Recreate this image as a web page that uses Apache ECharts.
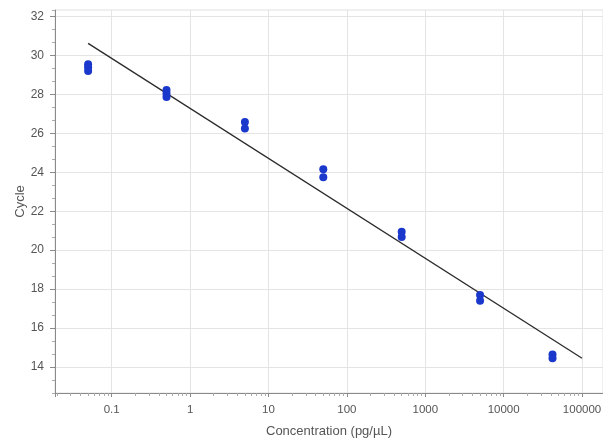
<!DOCTYPE html>
<html>
<head>
<meta charset="utf-8">
<script src="https://cdn.jsdelivr.net/npm/echarts@6/dist/echarts.min.js"></script>
<style>
html,body{margin:0;padding:0;background:#fff;}
#c{width:603px;height:443px;}
</style>
</head>
<body>
<div id="c"></div>
<script>
// Measured points (concentration in pg/µL, Ct cycle)
const concX = [0.05, 0.05, 0.05, 0.5, 0.5, 0.5, 5, 5, 50, 50, 500, 500, 5000, 5000, 42000, 42000];
const cycleY = [29.55, 29.4, 29.2, 28.22, 28.05, 27.87, 26.58, 26.25, 24.15, 23.75, 20.95, 20.68, 17.7, 17.4, 14.65, 14.45];
// Fitted standard curve endpoints
const fitX = [0.05, 100000];
const fitY = [30.62, 14.45];
// Axis ticks
const yTicks = [14, 16, 18, 20, 22, 24, 26, 28, 30, 32];
const xMin = 0.0189, xMax = 185000;
const yMin = 38 / 3, yMax = 97 / 3;

const chart = echarts.init(document.getElementById('c'), null, {renderer: 'canvas'});
const font = 'Liberation Sans, Arial, sans-serif';
const labelColor = '#555';
const axisColor = '#8a8a8a';
const gridColor = '#e4e4e4';

const option = {
  animation: false,
  backgroundColor: '#fff',
  grid: {left: 55, top: 10, right: 0, bottom: 50, outerBoundsMode: 'none', containLabel: false,
         show: true, borderColor: '#e0e0e0', borderWidth: 1},
  xAxis: {
    type: 'log',
    logBase: 10,
    min: xMin,
    max: xMax,
    splitNumber: 7,
    name: 'Concentration (pg/µL)',
    nameLocation: 'middle',
    nameGap: 32,
    nameTextStyle: {color: labelColor, fontSize: 13, fontFamily: font},
    axisLine: {show: true, lineStyle: {color: axisColor, width: 1}},
    axisTick: {show: true, inside: false, length: 4, lineStyle: {color: axisColor}},
    minorTick: {show: true, splitNumber: 9, length: 3, lineStyle: {color: '#aaa'}},
    axisLabel: {
      color: labelColor, fontSize: 11.5, fontFamily: font, margin: 11,
      showMinLabel: false, showMaxLabel: false,
      formatter: v => String(+Number(v).toPrecision(6))
    },
    splitLine: {show: true, lineStyle: {color: gridColor, width: 1}}
  },
  yAxis: [
    {
      type: 'value', position: 'left', min: yMin, max: yMax, interval: 2 / 3,
      name: 'Cycle',
      nameLocation: 'middle',
      nameGap: 28,
      nameTextStyle: {color: labelColor, fontSize: 13, fontFamily: font},
      axisLine: {show: false},
      axisTick: {show: true, length: 3, lineStyle: {color: '#aaa'}},
      axisLabel: {show: false},
      splitLine: {show: false}
    },
    {
      type: 'value', position: 'left', min: yMin, max: yMax,
      axisLine: {show: true, lineStyle: {color: axisColor, width: 1}},
      axisTick: {show: true, length: 5, customValues: yTicks, lineStyle: {color: axisColor}},
      axisLabel: {color: labelColor, fontSize: 12, fontFamily: font, margin: 11, customValues: yTicks},
      splitLine: {show: true, lineStyle: {color: gridColor, width: 1}}
    }
  ],
  series: [
    {
      type: 'line',
      yAxisIndex: 1,
      data: fitX.map((x, i) => [x, fitY[i]]),
      showSymbol: false,
      symbol: 'none',
      lineStyle: {color: '#2a2a2a', width: 1.3},
      z: 3
    },
    {
      type: 'scatter',
      yAxisIndex: 1,
      data: concX.map((x, i) => [x, cycleY[i]]),
      symbol: 'circle',
      symbolSize: 8,
      itemStyle: {color: '#1b38cc', opacity: 1},
      z: 4
    }
  ]
};
chart.setOption(option);
</script>
</body>
</html>
